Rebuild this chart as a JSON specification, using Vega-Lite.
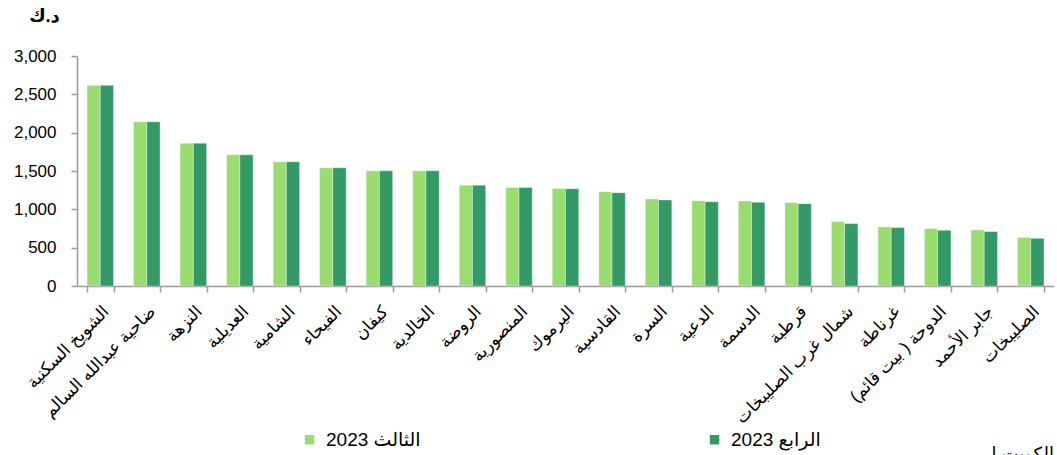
{
  "$schema": "https://vega.github.io/schema/vega-lite/v6.json",
  "width": 977,
  "height": 230,
  "autosize": {"type": "none"},
  "padding": {"left": 77, "top": 56, "right": 3, "bottom": 169},
  "background": "white",
  "config": {
    "font": "Liberation Sans, DejaVu Sans",
    "view": {"stroke": null}
  },
  "title": {
    "text": "الكويت ا",
    "orient": "bottom",
    "anchor": "end",
    "fontSize": 18,
    "fontWeight": "normal",
    "color": "#000000",
    "offset": -4
  },
  "data": {
    "values": [
      {"area": "الشويخ السكنية", "q": "2023 الثالث", "v": 2617},
      {"area": "الشويخ السكنية", "q": "2023 الرابع", "v": 2617},
      {"area": "ضاحية عبدالله السالم", "q": "2023 الثالث", "v": 2141},
      {"area": "ضاحية عبدالله السالم", "q": "2023 الرابع", "v": 2141},
      {"area": "النزهة", "q": "2023 الثالث", "v": 1862},
      {"area": "النزهة", "q": "2023 الرابع", "v": 1862},
      {"area": "العديلية", "q": "2023 الثالث", "v": 1711},
      {"area": "العديلية", "q": "2023 الرابع", "v": 1711},
      {"area": "الشامية", "q": "2023 الثالث", "v": 1620},
      {"area": "الشامية", "q": "2023 الرابع", "v": 1620},
      {"area": "الفيحاء", "q": "2023 الثالث", "v": 1542},
      {"area": "الفيحاء", "q": "2023 الرابع", "v": 1542},
      {"area": "كيفان", "q": "2023 الثالث", "v": 1502},
      {"area": "كيفان", "q": "2023 الرابع", "v": 1502},
      {"area": "الخالدية", "q": "2023 الثالث", "v": 1502},
      {"area": "الخالدية", "q": "2023 الرابع", "v": 1502},
      {"area": "الروضة", "q": "2023 الثالث", "v": 1315},
      {"area": "الروضة", "q": "2023 الرابع", "v": 1315},
      {"area": "المنصورية", "q": "2023 الثالث", "v": 1285},
      {"area": "المنصورية", "q": "2023 الرابع", "v": 1285},
      {"area": "اليرموك", "q": "2023 الثالث", "v": 1272},
      {"area": "اليرموك", "q": "2023 الرابع", "v": 1268},
      {"area": "القادسية", "q": "2023 الثالث", "v": 1230},
      {"area": "القادسية", "q": "2023 الرابع", "v": 1217},
      {"area": "السرة", "q": "2023 الثالث", "v": 1135},
      {"area": "السرة", "q": "2023 الرابع", "v": 1122},
      {"area": "الدعية", "q": "2023 الثالث", "v": 1113},
      {"area": "الدعية", "q": "2023 الرابع", "v": 1100},
      {"area": "الدسمة", "q": "2023 الثالث", "v": 1109},
      {"area": "الدسمة", "q": "2023 الرابع", "v": 1091},
      {"area": "قرطبة", "q": "2023 الثالث", "v": 1087},
      {"area": "قرطبة", "q": "2023 الرابع", "v": 1074},
      {"area": "شمال غرب الصليبخات", "q": "2023 الثالث", "v": 840},
      {"area": "شمال غرب الصليبخات", "q": "2023 الرابع", "v": 814},
      {"area": "غرناطة", "q": "2023 الثالث", "v": 771},
      {"area": "غرناطة", "q": "2023 الرابع", "v": 762},
      {"area": "‏الدوحة ( بيت قائم)‏", "q": "2023 الثالث", "v": 749},
      {"area": "‏الدوحة ( بيت قائم)‏", "q": "2023 الرابع", "v": 727},
      {"area": "جابر الأحمد", "q": "2023 الثالث", "v": 732},
      {"area": "جابر الأحمد", "q": "2023 الرابع", "v": 710},
      {"area": "الصليبخات", "q": "2023 الثالث", "v": 632},
      {"area": "الصليبخات", "q": "2023 الرابع", "v": 622}
    ]
  },
  "mark": {"type": "bar", "stroke": "#ffffff", "strokeWidth": 0.6, "strokeOpacity": 0.6},
  "encoding": {
    "x": {
      "field": "area",
      "type": "nominal",
      "sort": null,
      "scale": {"paddingInner": 0.43, "paddingOuter": 0.215},
      "axis": {
        "title": null,
        "tickBand": "extent",
        "labelAngle": -45,
        "labelAlign": "right",
        "labelBaseline": "top",
        "labelFontSize": 17,
        "labelColor": "#000000",
        "labelPadding": 11,
        "labelLimit": 400,
        "domainColor": "#9a9a9a",
        "tickColor": "#9a9a9a",
        "tickSize": 6,
        "domainWidth": 1.5,
        "tickWidth": 1.5
      }
    },
    "xOffset": {"field": "q", "type": "nominal", "sort": ["2023 الثالث", "2023 الرابع"]},
    "y": {
      "field": "v",
      "type": "quantitative",
      "scale": {"domain": [0, 3000], "nice": false},
      "axis": {
        "title": "د.ك",
        "titleAngle": 0,
        "titleFontSize": 18,
        "titleFontWeight": "bold",
        "titleColor": "#000000",
        "titleAlign": "center",
        "titleBaseline": "middle",
        "titleX": -33,
        "titleY": -40,
        "values": [0, 500, 1000, 1500, 2000, 2500, 3000],
        "format": ",.0f",
        "grid": false,
        "labelFontSize": 17,
        "labelColor": "#000000",
        "labelPadding": 15,
        "domainColor": "#9a9a9a",
        "tickColor": "#9a9a9a",
        "tickSize": 6,
        "domainWidth": 1.5,
        "tickWidth": 1.5
      }
    },
    "color": {
      "field": "q",
      "type": "nominal",
      "sort": ["2023 الثالث", "2023 الرابع"],
      "scale": {"domain": ["2023 الثالث", "2023 الرابع"], "range": ["#99dd70", "#339966"]},
      "legend": {
        "title": null,
        "orient": "none",
        "legendX": 223,
        "legendY": 374,
        "direction": "horizontal",
        "columnPadding": 284,
        "symbolType": "square",
        "symbolSize": 90,
        "symbolStrokeWidth": 0,
        "labelFontSize": 19,
        "labelColor": "#000000",
        "labelOffset": 7,
        "labelLimit": 300
      }
    }
  }
}
